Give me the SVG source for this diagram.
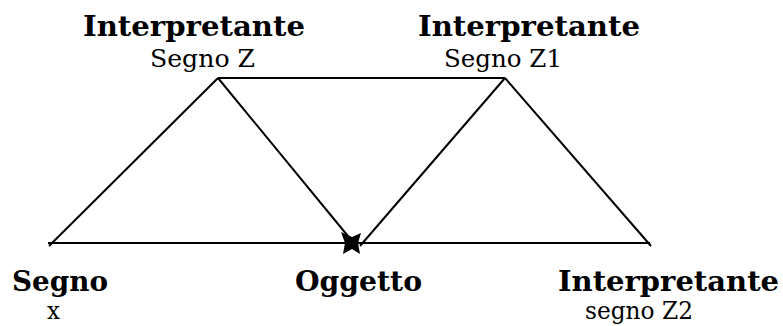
<svg xmlns="http://www.w3.org/2000/svg" width="783" height="326" viewBox="0 0 783 326">
<style>
.b{font-family:"DejaVu Serif","Liberation Serif",serif;font-weight:bold;font-size:28px;fill:#000}
.r{font-family:"DejaVu Serif","Liberation Serif",serif;font-size:25px;fill:#000}
.ln{stroke:#000;stroke-width:2;fill:none;stroke-linecap:butt}
</style>
<rect width="783" height="326" fill="#fff"/>
<g id="connectors">
<line class="ln" x1="48" y1="243" x2="650" y2="243"/>
<line class="ln" x1="218" y1="78" x2="505" y2="78"/>
<line class="ln" x1="49" y1="246" x2="218" y2="78"/>
<line class="ln" x1="218" y1="78" x2="352" y2="241"/>
<line class="ln" x1="505" y1="78" x2="360" y2="246"/>
<line class="ln" x1="505" y1="78" x2="651" y2="246"/>
<polygon points="341,232 352,237 361,233 358,243 360,254 352,249 343,254 345,243" fill="#000"/>
</g>
<g id="interpretante-z">
<text class="b" x="83" y="36" textLength="222" lengthAdjust="spacingAndGlyphs">Interpretante</text>
<text class="r" x="150" y="67" textLength="105" lengthAdjust="spacingAndGlyphs">Segno Z</text>
</g>
<g id="interpretante-z1">
<text class="b" x="418" y="36" textLength="222" lengthAdjust="spacingAndGlyphs">Interpretante</text>
<text class="r" x="444" y="67" textLength="118" lengthAdjust="spacingAndGlyphs">Segno Z1</text>
</g>
<g id="segno">
<text class="b" x="12" y="291" textLength="96" lengthAdjust="spacingAndGlyphs">Segno</text>
<text class="r" x="47" y="319" textLength="13" lengthAdjust="spacingAndGlyphs">x</text>
</g>
<g id="oggetto">
<text class="b" x="295" y="291" textLength="127" lengthAdjust="spacingAndGlyphs">Oggetto</text>
</g>
<g id="interpretante-z2">
<text class="b" x="558" y="291" textLength="221" lengthAdjust="spacingAndGlyphs">Interpretante</text>
<text class="r" x="585" y="319" textLength="108" lengthAdjust="spacingAndGlyphs">segno Z2</text>
</g>
</svg>
